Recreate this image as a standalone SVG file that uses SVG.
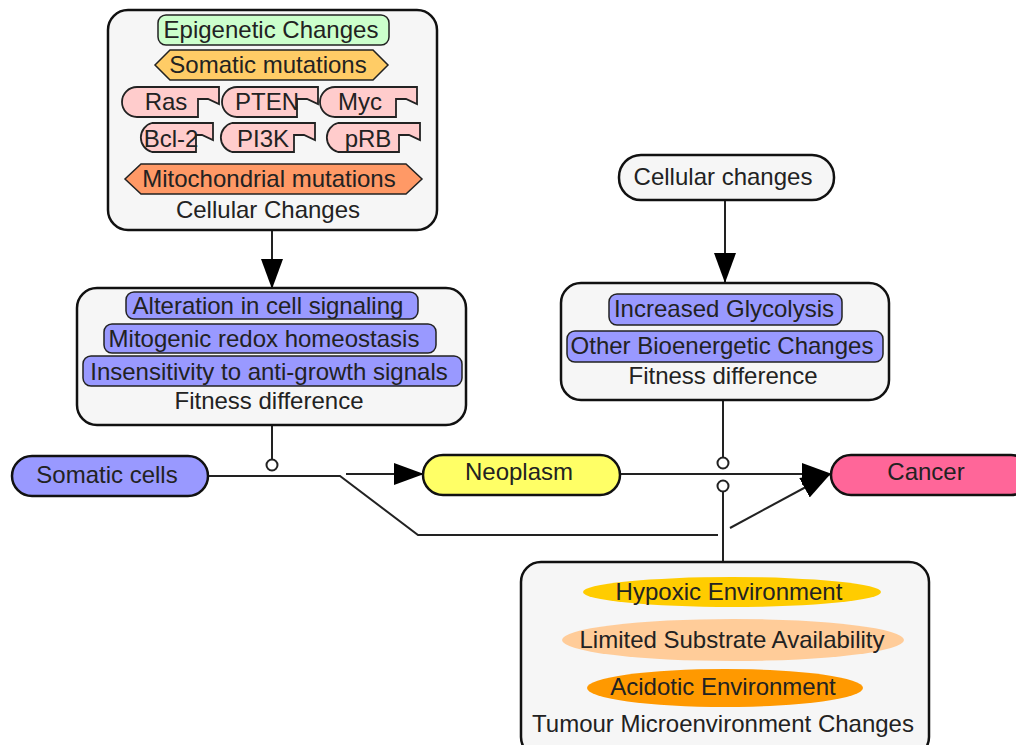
<svg xmlns="http://www.w3.org/2000/svg" width="1016" height="745" viewBox="0 0 1016 745">
<defs>
<style>
text{font-family:"Liberation Sans",Arial,sans-serif;font-size:24px;fill:#222;text-anchor:middle}
.box{fill:#f6f6f6;stroke:#111;stroke-width:2.5}
.inner{stroke:#222;stroke-width:1.5}
.blue{fill:#9999ff}
.gene{fill:#ffcccc;stroke:#222;stroke-width:1.8}
.pill{stroke:#111;stroke-width:2.5}
.ln{fill:none;stroke:#222;stroke-width:2}
.circ{fill:#fff;stroke:#222;stroke-width:2}
</style>
<marker id="arr" markerUnits="userSpaceOnUse" markerWidth="30" markerHeight="22" refX="29" refY="11" orient="auto">
<path d="M0,0 L30,11 L0,22 Z" fill="#000"/>
</marker>
</defs>

<g id="connectors">
<line class="ln" x1="272" y1="230" x2="272" y2="288" marker-end="url(#arr)"/>
<line class="ln" x1="725" y1="200" x2="725" y2="282" marker-end="url(#arr)"/>
<line class="ln" x1="272" y1="425" x2="272" y2="459"/>
<circle class="circ" cx="272" cy="465" r="5.5"/>
<polyline class="ln" points="208,476 340,476 418,535 718,535"/>
<line class="ln" x1="346" y1="474" x2="423" y2="474" marker-end="url(#arr)"/>
<line class="ln" x1="620" y1="474" x2="831" y2="474" marker-end="url(#arr)"/>
<line class="ln" x1="730" y1="528" x2="830" y2="474" marker-end="url(#arr)"/>
<line class="ln" x1="723" y1="400" x2="723" y2="457"/>
<circle class="circ" cx="723" cy="463" r="5.5"/>
<circle class="circ" cx="723" cy="486" r="5.5"/>
<line class="ln" x1="723" y1="492" x2="723" y2="562"/>
</g>

<g id="cellular-changes-complex">
<rect class="box" x="108" y="10" width="329" height="220" rx="20"/>
<g id="epigenetic">
<rect class="inner" x="158" y="15" width="231" height="30" rx="8" fill="#ccffcc"/>
<text x="271" y="38">Epigenetic Changes</text>
</g>
<g id="somatic-mutations">
<polygon class="inner" points="170,50 373,50 388,65 373,80 170,80 155,65" fill="#ffcc66"/>
<text x="268" y="73">Somatic mutations</text>
</g>
<g id="ras">
<path class="gene" d="M137,87 H219 V104 L208,99 H198 V117 H137 A15,15 0 0 1 137,87 Z"/>
<text x="166" y="110">Ras</text>
</g>
<g id="pten">
<path class="gene" d="M237,87 H318 V104 L307,99 H297 V117 H237 A15,15 0 0 1 237,87 Z"/>
<text x="267" y="110">PTEN</text>
</g>
<g id="myc">
<path class="gene" d="M335,87 H417 V104 L406,99 H396 V117 H335 A15,15 0 0 1 335,87 Z"/>
<text x="360" y="110">Myc</text>
</g>
<g id="bcl2">
<path class="gene" d="M152,123 H213 V140 L202,135 H196 V152 H152 A15,15 0 0 1 152,123 Z"/>
<text x="171" y="147">Bcl-2</text>
</g>
<g id="pi3k">
<path class="gene" d="M232,123 H315 V140 L304,135 H294 V152 H232 A15,15 0 0 1 232,123 Z"/>
<text x="263" y="147">PI3K</text>
</g>
<g id="prb">
<path class="gene" d="M338,123 H420 V140 L409,135 H399 V152 H338 A15,15 0 0 1 338,123 Z"/>
<text x="368" y="147">pRB</text>
</g>
<g id="mito">
<polygon class="inner" points="141,164 406,164 422,179 406,194 141,194 125,179" fill="#ff9966"/>
<text x="269" y="187">Mitochondrial mutations</text>
</g>
<text x="268" y="218">Cellular Changes</text>
</g>

<g id="fitness-difference-1">
<rect class="box" x="77" y="288" width="389" height="137" rx="20"/>
<g id="alteration">
<rect class="inner blue" x="126" y="292" width="292" height="27" rx="8"/>
<text x="268" y="314">Alteration in cell signaling</text>
</g>
<g id="mitogenic">
<rect class="inner blue" x="104" y="324" width="332" height="29" rx="8"/>
<text x="264" y="347">Mitogenic redox homeostasis</text>
</g>
<g id="insensitivity">
<rect class="inner blue" x="83" y="356" width="379" height="30" rx="8"/>
<text x="269" y="380">Insensitivity to anti-growth signals</text>
</g>
<text x="269" y="409">Fitness difference</text>
</g>

<g id="cellular-changes-2">
<rect class="box" x="619" y="155" width="215" height="45" rx="22"/>
<text x="723" y="185">Cellular changes</text>
</g>

<g id="fitness-difference-2">
<rect class="box" x="561" y="283" width="328" height="117" rx="20"/>
<g id="glycolysis">
<rect class="inner blue" x="609" y="294" width="233" height="31" rx="8"/>
<text x="724" y="317">Increased Glycolysis</text>
</g>
<g id="bioenergetic">
<rect class="inner blue" x="567" y="331" width="316" height="31" rx="8"/>
<text x="722" y="354">Other Bioenergetic Changes</text>
</g>
<text x="723" y="384">Fitness difference</text>
</g>

<g id="somatic-cells">
<rect class="pill" x="12" y="456" width="196" height="40" rx="20" fill="#9999ff"/>
<text x="107" y="483">Somatic cells</text>
</g>

<g id="neoplasm">
<rect class="pill" x="423" y="455" width="197" height="40" rx="20" fill="#ffff66"/>
<text x="519" y="480">Neoplasm</text>
</g>

<g id="cancer">
<rect class="pill" x="831" y="455" width="200" height="40" rx="20" fill="#ff6699"/>
<text x="926" y="480">Cancer</text>
</g>

<g id="tumour-microenvironment">
<rect class="box" x="521" y="562" width="408" height="195" rx="20"/>
<g id="hypoxic">
<ellipse cx="732" cy="592" rx="149" ry="15" fill="#ffcc00"/>
<text x="729" y="600">Hypoxic Environment</text>
</g>
<g id="limited">
<ellipse cx="733" cy="640" rx="171" ry="21" fill="#ffcc99"/>
<text x="732" y="648">Limited Substrate Availability</text>
</g>
<g id="acidotic">
<ellipse cx="725" cy="688" rx="138" ry="19" fill="#ff9900"/>
<text x="723" y="695">Acidotic Environment</text>
</g>
<text x="723" y="732">Tumour Microenvironment Changes</text>
</g>
</svg>
